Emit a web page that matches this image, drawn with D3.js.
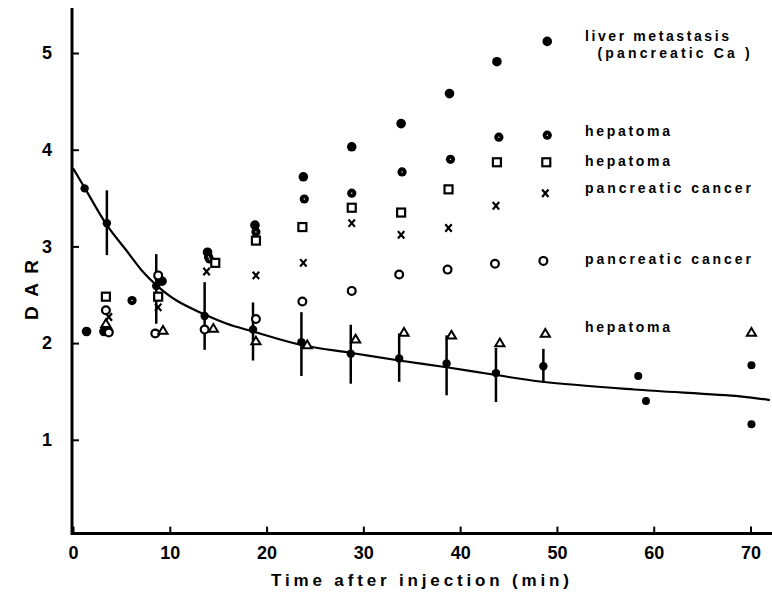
<!DOCTYPE html>
<html><head><meta charset="utf-8">
<script src="https://cdn.jsdelivr.net/npm/d3@7"></script>
<style>html,body{margin:0;padding:0;background:#fff}svg{display:block}</style>
</head><body>
<script>
// ---- data ----
const xTicks = [0,10,20,30,40,50,60,70];
const yTicks = [1,2,3,4,5];
const xTitle = "Time after injection (min)";
const yTitle = "D A R";

// mean DAR with error bars
const meanT  = [1.2, 3.5, 8.6, 13.6, 18.6, 23.6, 28.7, 33.7, 38.6, 43.7, 48.6];
const meanV  = [3.60, 3.24, 2.59, 2.28, 2.14, 2.01, 1.89, 1.84, 1.79, 1.69, 1.76];
const meanLo = [null, 2.91, 2.20, 1.93, 1.82, 1.66, 1.58, 1.60, 1.46, 1.39, 1.59];
const meanHi = [null, 3.58, 2.92, 2.63, 2.42, 2.32, 2.19, 2.10, 2.08, 1.95, 1.94];

// fitted curve
const curveT = [0, 1.24, 3.5, 5.5, 7.2, 8.6, 10.7, 13.5, 15.9, 18.6, 23.6, 28.6, 33.7, 38.6, 43.7, 48.5, 58, 68.9, 72];
const curveV = [3.81, 3.60, 3.22, 2.96, 2.74, 2.60, 2.44, 2.30, 2.20, 2.12, 1.98, 1.90, 1.82, 1.75, 1.67, 1.60, 1.52, 1.45, 1.41];

// individual series
const liverT = [1.4, 3.2, 9.2, 13.9, 18.8, 23.8, 28.8, 33.9, 38.9, 43.8, 49.0];
const liverV = [2.12, 2.12, 2.64, 2.94, 3.22, 3.72, 4.03, 4.27, 4.58, 4.91, 5.12];

const hepFilledT = [3.7, 6.1, 8.9, 14.0, 14.1, 18.9, 23.9, 28.8, 34.0, 39.0, 44.0, 49.0];
const hepFilledV = [2.12, 2.44, 2.67, 2.89, 2.87, 3.15, 3.49, 3.55, 3.77, 3.90, 4.13, 4.15];

const hepSquareT = [3.4, 8.8, 14.7, 18.9, 23.7, 28.8, 33.9, 38.8, 43.8, 48.9];
const hepSquareV = [2.48, 2.48, 2.83, 3.06, 3.20, 3.40, 3.35, 3.59, 3.87, 3.87];

const pancXT = [3.7, 8.8, 13.8, 18.9, 23.8, 28.8, 33.9, 38.8, 43.7, 48.8];
const pancXV = [2.27, 2.37, 2.74, 2.70, 2.83, 3.24, 3.12, 3.19, 3.42, 3.55];

const pancOpenT = [3.7, 8.5, 13.6, 18.9, 23.7, 28.8, 33.7, 38.7, 43.6, 48.6];
const pancOpenV = [2.11, 2.10, 2.14, 2.25, 2.43, 2.54, 2.71, 2.76, 2.82, 2.85];

const openExtraT = [3.4, 8.8];
const openExtraV = [2.34, 2.70];

const hepTriT = [3.4, 9.3, 14.5, 18.9, 24.2, 29.2, 34.2, 39.1, 44.1, 48.8, 70.1];
const hepTriV = [2.20, 2.13, 2.15, 2.02, 1.98, 2.04, 2.11, 2.08, 2.00, 2.10, 2.11];

const otherDotT = [58.4, 59.2, 70.1, 70.1];
const otherDotV = [1.66, 1.40, 1.77, 1.16];

const notes = [
  {text: "liver metastasis", t: 52.9, v: 5.18, w: 144},
  {text: "(pancreatic Ca )", t: 54.2, v: 5.00, w: 152},
  {text: "hepatoma", t: 52.9, v: 4.19, w: 85},
  {text: "hepatoma", t: 52.9, v: 3.88, w: 85},
  {text: "pancreatic cancer", t: 52.9, v: 3.60, w: 166},
  {text: "pancreatic cancer", t: 52.9, v: 2.87, w: 166},
  {text: "hepatoma", t: 52.9, v: 2.17, w: 85}
];

// ---- drawing ----
const W = 772, H = 598;
const svg = d3.select("body").append("svg").attr("width", W).attr("height", H);
const x = d3.scaleLinear().domain([0, 70]).range([73, 750.5]);
const y = d3.scaleLinear().domain([0, 5]).range([536.5, 53]);
const font = "'Liberation Sans', Arial, sans-serif";

// axes
const axisY = y(0.03);
svg.append("line").attr("x1", x(0)-1).attr("x2", W).attr("y1", axisY).attr("y2", axisY)
  .attr("stroke", "#000").attr("stroke-width", 3);
svg.append("line").attr("x1", x(0)-1).attr("x2", x(0)-1).attr("y1", 8).attr("y2", axisY+1.5)
  .attr("stroke", "#000").attr("stroke-width", 3);

const gx = svg.append("g").attr("transform", `translate(0,${axisY})`)
  .call(d3.axisBottom(x).tickValues(xTicks).tickSize(-7).tickPadding(13).tickFormat(d3.format("d")));
gx.select(".domain").remove();
gx.selectAll(".tick line").attr("stroke", "#000").attr("stroke-width", 2);
gx.selectAll(".tick text").attr("font-family", font).attr("font-weight", "bold")
  .attr("font-size", 18).attr("fill", "#000");

const gy = svg.append("g").attr("transform", `translate(${x(0)-1},0)`)
  .call(d3.axisLeft(y).tickValues(yTicks).tickSize(-7).tickPadding(20).tickFormat(d3.format("d")));
gy.select(".domain").remove();
gy.selectAll(".tick line").attr("stroke", "#000").attr("stroke-width", 2);
gy.selectAll(".tick text").attr("font-family", font).attr("font-weight", "bold")
  .attr("font-size", 18).attr("fill", "#000");

// titles
svg.append("text").attr("x", 420).attr("y", 586).attr("text-anchor", "middle")
  .attr("font-family", font).attr("font-weight", "bold").attr("font-size", 17)
  .attr("textLength", 298).attr("lengthAdjust", "spacing").text(xTitle);
svg.append("text").attr("transform", "translate(38,290) rotate(-90)").attr("text-anchor", "middle")
  .attr("font-family", font).attr("font-weight", "bold").attr("font-size", 19)
  .attr("textLength", 60).attr("lengthAdjust", "spacing")
  .text(yTitle);

// fitted curve
const line = d3.line().x(d => x(d[0])).y(d => y(d[1])).curve(d3.curveCatmullRom);
svg.append("path").datum(d3.zip(curveT, curveV)).attr("d", line)
  .attr("fill", "none").attr("stroke", "#000").attr("stroke-width", 2.2);

// error bars
const bars = d3.zip(meanT, meanLo, meanHi).filter(d => d[1] !== null);
svg.selectAll(".eb").data(bars).join("line")
  .attr("x1", d => x(d[0])).attr("x2", d => x(d[0]))
  .attr("y1", d => y(d[1])).attr("y2", d => y(d[2]))
  .attr("stroke", "#000").attr("stroke-width", 2.5);

function dots(T, V, r, fill, stroke, sw) {
  svg.append("g").selectAll("circle").data(d3.zip(T, V)).join("circle")
    .attr("cx", d => x(d[0])).attr("cy", d => y(d[1])).attr("r", r)
    .attr("fill", fill).attr("stroke", stroke).attr("stroke-width", sw);
}
// mean points
dots(meanT, meanV, 4.2, "#000", "none", 0);
dots(otherDotT, otherDotV, 4, "#000", "none", 0);
// liver metastasis
dots(liverT, liverV, 4.8, "#000", "none", 0);
// hepatoma (filled with tiny light centre)
dots(hepFilledT, hepFilledV, 4.6, "#000", "none", 0);
dots(hepFilledT, hepFilledV, 0.7, "#fff", "none", 0);
// open circles
dots(pancOpenT, pancOpenV, 3.9, "#fff", "#000", 2.2);
dots(openExtraT, openExtraV, 3.9, "#fff", "#000", 2.2);
// squares
svg.append("g").selectAll("rect").data(d3.zip(hepSquareT, hepSquareV)).join("rect")
  .attr("x", d => x(d[0]) - 4).attr("y", d => y(d[1]) - 4).attr("width", 8).attr("height", 8)
  .attr("fill", "#fff").attr("stroke", "#000").attr("stroke-width", 2.2);
// crosses
svg.append("g").selectAll("path").data(d3.zip(pancXT, pancXV)).join("path")
  .attr("d", d => { const cx = x(d[0]), cy = y(d[1]), s = 3.2;
    return `M${cx-s},${cy-s-0.5}L${cx+s},${cy+s+0.5}M${cx+s},${cy-s-0.5}L${cx-s},${cy+s+0.5}`; })
  .attr("stroke", "#000").attr("stroke-width", 2.2).attr("fill", "none");
// triangles
svg.append("g").selectAll("path").data(d3.zip(hepTriT, hepTriV)).join("path")
  .attr("d", d => { const cx = x(d[0]), cy = y(d[1]);
    return `M${cx},${cy-4.5}L${cx+4.6},${cy+3.2}L${cx-4.6},${cy+3.2}Z`; })
  .attr("fill", "#fff").attr("stroke", "#000").attr("stroke-width", 2);

// annotations
svg.append("g").selectAll("text").data(notes).join("text")
  .attr("x", d => x(d.t)).attr("y", d => y(d.v) + 5)
  .attr("font-family", font).attr("font-weight", "bold").attr("font-size", 14)
  .attr("textLength", d => d.w).attr("lengthAdjust", "spacing")
  .text(d => d.text);
</script>
</body></html>
